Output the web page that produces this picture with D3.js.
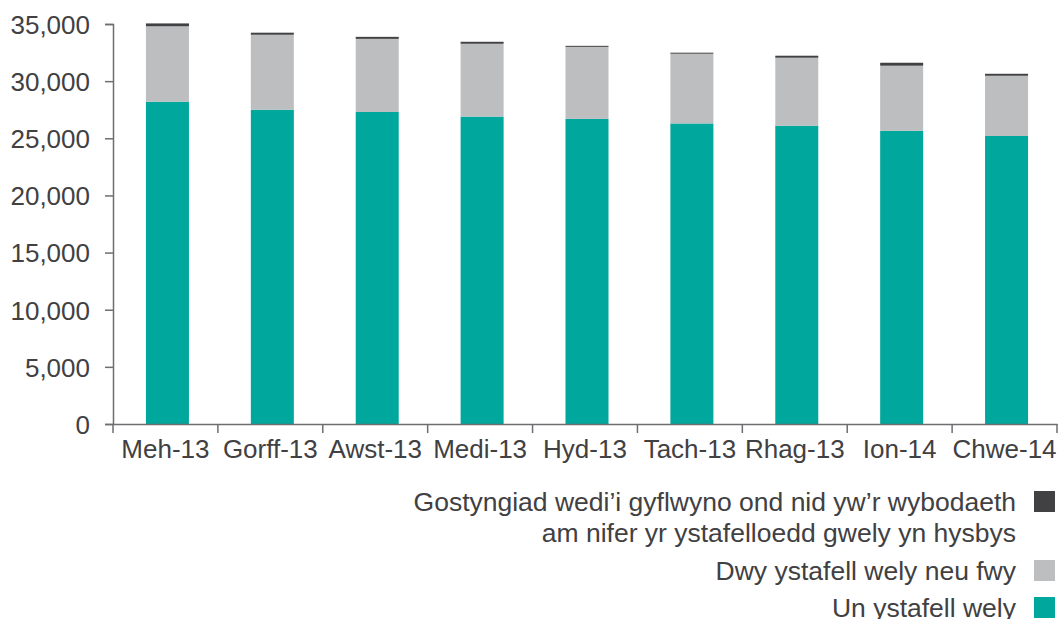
<!DOCTYPE html>
<html>
<head>
<meta charset="utf-8">
<script src="https://cdn.jsdelivr.net/npm/d3@7"></script>
<style>
  body { margin: 0; background: #fff; }
  svg { display: block; font-family: "Liberation Sans", Arial, sans-serif; }
</style>
</head>
<body>
<svg id="chart" width="1062" height="619"></svg>
<script>
// DATA ////////////////////////////////
var months = ["Meh-13", "Gorff-13", "Awst-13", "Medi-13", "Hyd-13", "Tach-13", "Rhag-13", "Ion-14", "Chwe-14"];
var oneBed = [28200, 27500, 27300, 26900, 26700, 26300, 26100, 25650, 25200];
var twoPlus = [6600, 6560, 6400, 6370, 6300, 6100, 5950, 5700, 5270];
var unknownBeds = [250, 180, 175, 175, 90, 90, 175, 260, 175];
var yTicks = [0, 5000, 10000, 15000, 20000, 25000, 30000, 35000];

var seriesKeys = ["one", "two", "unk"];
var colours = { one: "#00a79d", two: "#bcbec0", unk: "#414042" };
var legendItems = [
  { key: "unk", lines: ["Gostyngiad wedi\u2019i gyflwyno ond nid yw\u2019r wybodaeth", "am nifer yr ystafelloedd gwely yn hysbys"] },
  { key: "two", lines: ["Dwy ystafell wely neu fwy"] },
  { key: "one", lines: ["Un ystafell wely"] }
];

var rows = months.map(function (m, i) {
  return { month: m, one: oneBed[i], two: twoPlus[i], unk: unknownBeds[i] };
});

//LAYOUT////////////////////////////////
var svg = d3.select("#chart");
var plotL = 113, plotR = 1057, plotT = 24, plotB = 424;
var textCol = "#414042", axisCol = "#6d6e71";

var x = d3.scaleBand().domain(months).range([plotL, plotR])
  .paddingInner(0.59).paddingOuter(0.295);
var xEdge = d3.scaleBand().domain(months).range([plotL, plotR]).padding(0);
var y = d3.scaleLinear().domain([0, 35000]).range([plotB, plotT]);

//BARS//////////////////////////////////
var stacked = d3.stack().keys(seriesKeys)(rows);
svg.append("g").selectAll("g")
  .data(stacked)
  .join("g")
  .attr("fill", function (d) { return colours[d.key]; })
  .selectAll("rect")
  .data(function (d) { return d; })
  .join("rect")
  .attr("x", function (d) { return x(d.data.month) + 2; })
  .attr("width", x.bandwidth())
  .attr("y", function (d) { return y(d[1]); })
  .attr("height", function (d) { return y(d[0]) - y(d[1]); });

//Y AXIS////////////////////////////////
var yAxis = svg.append("g")
  .attr("transform", "translate(" + plotL + ",0)")
  .call(d3.axisLeft(y).tickValues(yTicks).tickFormat(d3.format(",")).tickSize(8).tickPadding(15));
yAxis.select(".domain").attr("stroke", axisCol).attr("stroke-width", 1.5);
yAxis.selectAll(".tick line").attr("stroke", axisCol).attr("stroke-width", 1.5);
yAxis.selectAll(".tick text")
  .attr("fill", textCol).style("font-size", "26px").attr("dy", "0.36em");

//X AXIS////////////////////////////////
var xAxis = svg.append("g")
  .attr("transform", "translate(0," + plotB + ")")
  .call(d3.axisBottom(xEdge).tickSize(0).tickPadding(16));
xAxis.select(".domain").attr("stroke", axisCol).attr("stroke-width", 1.5);
xAxis.selectAll(".tick text")
  .attr("fill", textCol).style("font-size", "26px");
// ticks at the category edges
var edges = months.map(function (m) { return xEdge(m); }).concat([plotR]);
xAxis.selectAll("line.edge")
  .data(edges)
  .join("line")
  .attr("class", "edge")
  .attr("x1", function (d) { return d; })
  .attr("x2", function (d) { return d; })
  .attr("y1", 0)
  .attr("y2", 9)
  .attr("stroke", axisCol)
  .attr("stroke-width", 1.5);

//LEGEND////////////////////////////////
var legendY = [511, 580, 617];
var leg = svg.append("g");
legendItems.forEach(function (item, i) {
  var g = leg.append("g");
  item.lines.forEach(function (line, j) {
    g.append("text")
      .attr("x", 1016)
      .attr("y", legendY[i] + j * 31)
      .attr("text-anchor", "end")
      .attr("fill", textCol)
      .style("font-size", "26.5px")
      .text(line);
  });
  g.append("rect")
    .attr("x", 1034)
    .attr("y", legendY[i] - 20)
    .attr("width", 21)
    .attr("height", 21)
    .attr("fill", colours[item.key]);
});
</script>
</body>
</html>
